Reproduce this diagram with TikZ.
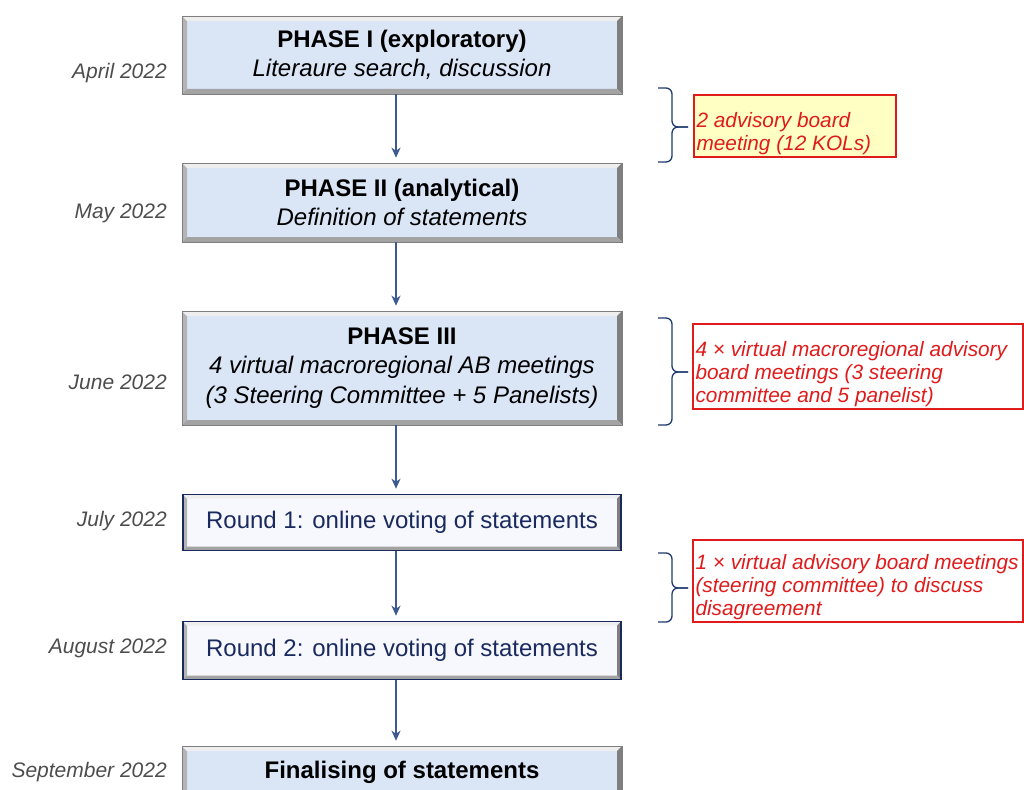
\documentclass[tikz,border=0pt]{standalone}
\usepackage{fontspec}
\setmainfont{Liberation Sans}
\usepackage{xcolor}
\usepackage{tikz}
\usetikzlibrary{arrows.meta}
\definecolor{cbBlue}{HTML}{DAE5F6}
\definecolor{cbPale}{HTML}{F6F8FD}
\definecolor{cbNavy}{HTML}{1F3A6E}
\definecolor{cbArrow}{HTML}{3C5A8F}
\definecolor{cbInk}{HTML}{1A2A5E}
\definecolor{cbDate}{HTML}{4D4D4D}
\definecolor{cbRed}{HTML}{E01B1B}
\definecolor{cbYellow}{HTML}{FFFFC4}
\definecolor{cbBevL}{HTML}{B4B4B4}
\definecolor{cbBevT}{HTML}{EEEEEE}
\definecolor{cbBevR}{HTML}{7F7F7F}
\definecolor{cbBevB}{HTML}{A3A3A3}

\begin{document}
\begin{tikzpicture}[x=1pt,y=-1pt,
  bevel/.style={path picture={
    \coordinate (pnw) at (path picture bounding box.north west);
    \coordinate (pne) at (path picture bounding box.north east);
    \coordinate (psw) at (path picture bounding box.south west);
    \coordinate (pse) at (path picture bounding box.south east);
    \fill[cbBevL] (pnw) -- (psw) -- ([shift={(#1,#1)}]psw) -- ([shift={(#1,-#1)}]pnw) -- cycle;
    \fill[cbBevT] (pnw) -- (pne) -- ([shift={(-#1,-#1)}]pne) -- ([shift={(#1,-#1)}]pnw) -- cycle;
    \fill[cbBevR] (pne) -- (pse) -- ([shift={(-#1,#1)}]pse) -- ([shift={(-#1,-#1)}]pne) -- cycle;
    \fill[cbBevB] (psw) -- (pse) -- ([shift={(-#1,#1)}]pse) -- ([shift={(#1,#1)}]psw) -- cycle;}},
  ph/.style={bevel=5pt,fill=cbBlue,draw=cbBevR,line width=0.6pt,minimum width=440pt,
             align=center,inner sep=0pt,font=\fontsize{24}{29.5}\selectfont},
  rd/.style={bevel=4pt,fill=cbPale,draw=cbInk,line width=1.6pt,minimum width=438pt,
             align=center,inner sep=0pt,text=cbInk,font=\fontsize{24}{27}\selectfont},
  dt/.style={anchor=east,inner sep=0pt,text=cbDate,font=\fontsize{21}{24}\itshape},
  nbox/.style={draw=cbRed,line width=1.3pt,inner sep=0pt},
  nt/.style={anchor=south west,align=left,inner xsep=3pt,inner ysep=2.5pt,text=cbRed,
             font=\fontsize{20.8}{23}\itshape},
  ar/.style={-{Stealth[length=10pt,width=9pt,inset=3pt]},cbArrow,line width=1.4pt,shorten >=5pt},
  br/.style={draw=cbNavy,line width=1.3pt,rounded corners=6pt}]
\useasboundingbox (0,0) rectangle (1024,789);
% flow of phases
\node[ph,minimum height=78pt] (p1) at (402,55)
  {{\bfseries PHASE I (exploratory)}\\{\itshape Literaure search, discussion}};
\node[ph,minimum height=79pt] (p2) at (402,202.5)
  {{\bfseries PHASE II (analytical)}\\{\itshape Definition of statements}};
\node[ph,minimum height=114pt] (p3) at (402,368)
  {{\bfseries PHASE III}\\{\itshape 4 virtual macroregional AB meetings}\\{\itshape (3 Steering Committee + 5 Panelists)}};
\node[rd,minimum height=56pt] (r1) at (402,522.5) {Round 1: online voting of statements};
\node[rd,minimum height=58pt] (r2) at (402,650.5) {Round 2: online voting of statements};
\node[ph,minimum height=52pt] (fin) at (402,772) {\bfseries Finalising of statements};
% dates
\node[dt] (d1) at (167,73) {April 2022};
\node[dt] (d2) at (167,213) {May 2022};
\node[dt] (d3) at (167,382) {June 2022};
\node[dt] (d4) at (167,521) {July 2022};
\node[dt] (d5) at (167,648) {August 2022};
\node[dt] (d6) at (167,772) {September 2022};
% arrows
\draw[ar] ([xshift=-6pt]p1.south) -- ([xshift=-6pt]p2.north);
\draw[ar] ([xshift=-6pt]p2.south) -- ([xshift=-6pt]p3.north);
\draw[ar] ([xshift=-6pt]p3.south) -- ([xshift=-6pt]r1.north);
\draw[ar] ([xshift=-6pt]r1.south) -- ([xshift=-6pt]r2.north);
\draw[ar] ([xshift=-6pt]r2.south) -- ([xshift=-6pt]fin.north);
% advisory board notes
\node[nbox,fill=cbYellow,minimum width=202pt,minimum height=62pt] (n1) at (795,126) {};
\node[nt] (n1t) at (n1.south west) {2 advisory board\\meeting (12 KOLs)};
\node[nbox,fill=white,minimum width=330pt,minimum height=85pt] (n2) at (858,366.5) {};
\node[nt] (n2t) at (n2.south west)
  {4 × virtual macroregional advisory\\board meetings (3 steering\\committee and 5 panelist)};
\node[nbox,fill=white,minimum width=330pt,minimum height=82pt] (n3) at (858,581) {};
\node[nt] (n3t) at (n3.south west)
  {1 × virtual advisory board meetings\\(steering committee) to discuss\\disagreement};
% braces
\coordinate (b1t) at (658,88);  \coordinate (b1b) at (658,162); \coordinate (b1m) at (688,127);
\coordinate (b2t) at (658,318); \coordinate (b2b) at (658,425); \coordinate (b2m) at (688,372);
\coordinate (b3t) at (658,553); \coordinate (b3b) at (658,622); \coordinate (b3m) at (688,588);
\draw[br] (b1t) -| ([xshift=-16pt]b1m) -- (b1m);
\draw[br] (b1b) -| ([xshift=-16pt]b1m) -- (b1m);
\draw[br] (b2t) -| ([xshift=-16pt]b2m) -- (b2m);
\draw[br] (b2b) -| ([xshift=-16pt]b2m) -- (b2m);
\draw[br] (b3t) -| ([xshift=-16pt]b3m) -- (b3m);
\draw[br] (b3b) -| ([xshift=-16pt]b3m) -- (b3m);
\end{tikzpicture}
\end{document}
